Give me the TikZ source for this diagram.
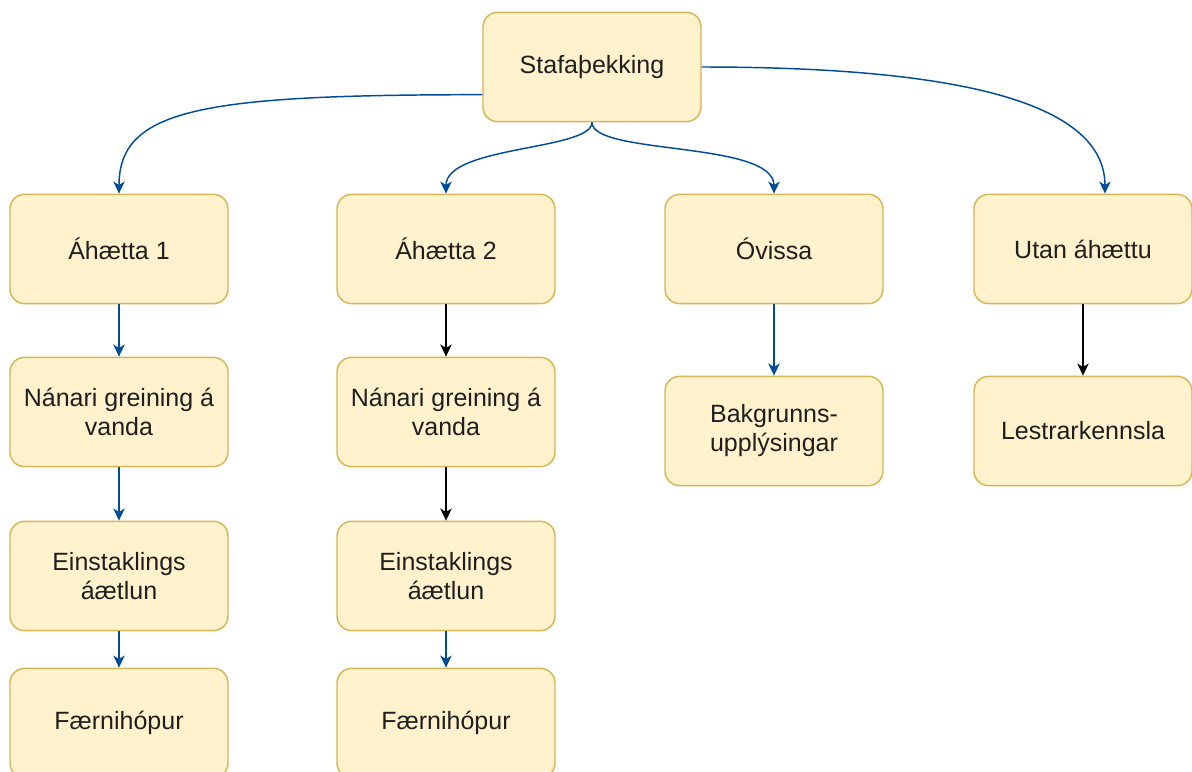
\documentclass[tikz,border=0pt]{standalone}
\usepackage{fontspec}
\setmainfont{Liberation Sans}
\usetikzlibrary{arrows.meta,calc}

\definecolor{boxfill}{RGB}{255,242,204}
\definecolor{boxline}{RGB}{214,182,86}
\definecolor{linkblue}{RGB}{0,76,153}

\tikzset{every picture/.style={line width=0.75pt}}
\tikzset{
  stage/.style={draw=boxline, fill=boxfill, line width=1.1pt, rounded corners=11pt,
    minimum width=163.5pt, minimum height=82pt, inner sep=2pt, align=center,
    text=black!88, font=\fontsize{18.75}{21.75}\selectfont},
  bluelink/.style={draw=linkblue, line width=1.1pt, -{Stealth[length=9pt,width=8.5pt,inset=2.5pt]}},
  blacklink/.style={draw=black, line width=1.1pt, -{Stealth[length=9pt,width=8.5pt,inset=2.5pt]}}
}

\begin{document}
\begin{tikzpicture}[x=0.75pt,y=0.75pt,yscale=-1]
\useasboundingbox (0,0) rectangle (1192,771);

% Top box
\node[stage] (top) at (592,67) {Stafaþekking};

% Column 1
\node[stage] (risk1) at (119,249) {Áhætta 1};
\node[stage] (anal1) at (119,412) {Nánari greining á\\vanda};
\node[stage] (plan1) at (119,576) {Einstaklings\\áætlun};
\node[stage] (group1) at (119,723) {Færnihópur};

% Column 2
\node[stage] (risk2) at (446,249) {Áhætta 2};
\node[stage] (anal2) at (446,412) {Nánari greining á\\vanda};
\node[stage] (plan2) at (446,576) {Einstaklings\\áætlun};
\node[stage] (group2) at (446,723) {Færnihópur};

% Column 3
\node[stage] (doubt) at (774,249) {Óvissa};
\node[stage] (background) at (774,431) {Bakgrunns-\\upplýsingar};

% Column 4
\node[stage] (norisk) at (1083,249) {Utan áhættu};
\node[stage] (reading) at (1083,431) {Lestrarkennsla};

% Curved links from the top box
\coordinate (topleft) at ($(top.north west)!0.75!(top.south west)$);
\coordinate (noriskin) at ($(norisk.north west)!0.6!(norisk.north east)$);
\draw[bluelink] (topleft) .. controls ($(topleft)+(-280,0)$) and ($(risk1.north)+(0,-85)$) .. (risk1.north);
\draw[bluelink] (top.south) .. controls ($(top.south)+(0,28)$) and ($(risk2.north)+(0,-48)$) .. (risk2.north);
\draw[bluelink] (top.south) .. controls ($(top.south)+(0,33)$) and ($(doubt.north)+(0,-53)$) .. (doubt.north);
\draw[bluelink] (top.east) .. controls ($(top.east)+(250,0)$) and ($(noriskin)+(0,-93)$) .. (noriskin);

% Straight links
\draw[bluelink] (risk1) -- (anal1);
\draw[bluelink] (anal1) -- (plan1);
\draw[bluelink] (plan1) -- (group1);
\draw[blacklink] (risk2) -- (anal2);
\draw[blacklink] (anal2) -- (plan2);
\draw[bluelink] (plan2) -- (group2);
\draw[bluelink] (doubt) -- (background);
\draw[blacklink] (norisk) -- (reading);

\end{tikzpicture}
\end{document}
